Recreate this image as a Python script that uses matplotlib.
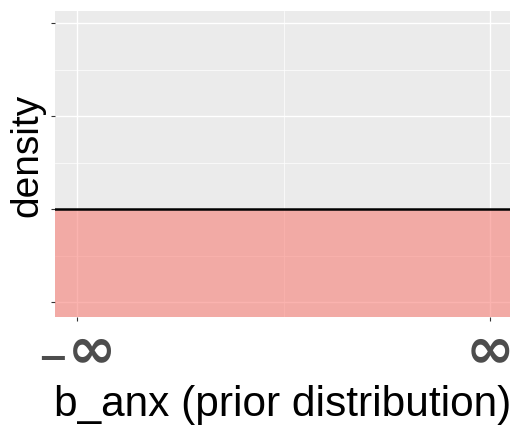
import matplotlib
matplotlib.use('Agg')
import matplotlib.pyplot as plt

# 데이터
x_vals = [-1, 1]           # -inf .. inf
x_span = [-2, 2]           # density is flat over the whole axis
density_vals = [0, 0]
x_tick_labels = ['₋∞', '∞']
y_ticks = [-1, 0, 1, 2]

plt.rcParams['font.family'] = ['Liberation Sans', 'DejaVu Sans']

fig = plt.figure(figsize=(5.17, 4.35), dpi=100)
ax = fig.add_axes([55 / 517, 117 / 435, 455 / 517, 306 / 435])
ax.set_facecolor('#EBEBEB')

ax.set_xlim(-1.107, 1.097)
ax.set_ylim(-1.16, 2.13)

# 그리드
ax.set_xticks(x_vals)
ax.set_xticks([0], minor=True)
ax.set_yticks(y_ticks)
ax.set_yticks([-0.5, 0.5, 1.5], minor=True)
ax.grid(which='major', color='white', linewidth=1.0)
ax.grid(which='minor', color='white', linewidth=0.5)
ax.set_axisbelow(True)

# 밀도 영역
ax.fill_between(x_span, -1.16, density_vals, color='#F8766D', alpha=0.55,
                linewidth=0, zorder=2)
ax.plot(x_span, density_vals, color='black', linewidth=1.8, zorder=3)

for s in ax.spines.values():
    s.set_visible(False)

ax.set_yticklabels([])
ax.set_xticklabels(x_tick_labels, fontsize=42, color='#4D4D4D',
                   family=['DejaVu Sans'], fontweight='bold')
ax.tick_params(which='major', length=3, width=0.8, color='#333333', pad=0)
ax.tick_params(which='minor', length=0)

ax.set_xlabel('b_anx (prior distribution)', fontsize=30.5, labelpad=4)
ax.set_ylabel('density', fontsize=28)
ax.yaxis.set_label_coords(-0.022, 0.53)

fig.savefig('out.png', dpi=100)
